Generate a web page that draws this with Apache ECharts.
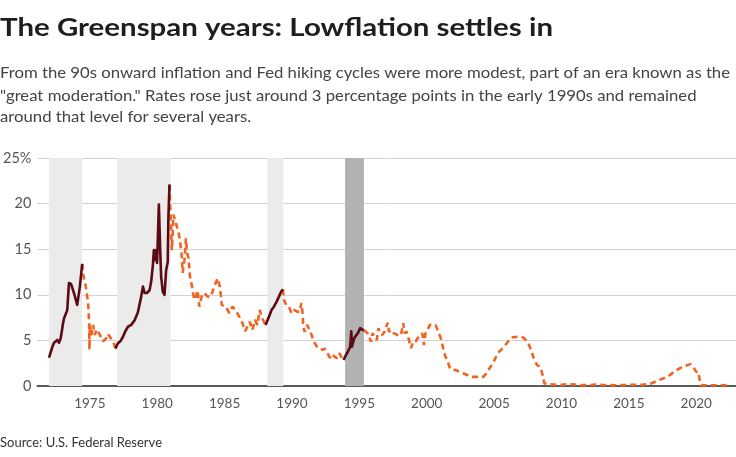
<!DOCTYPE html>
<html><head><meta charset="utf-8">
<script src="https://cdn.jsdelivr.net/npm/echarts@6/dist/echarts.min.js"></script>
<style>html,body{margin:0;padding:0;background:#fff}#c{width:736px;height:457px}</style>
</head><body><div id="c"></div>
<script>
const titleText = 'The Greenspan years: Lowflation settles in';
const subtitleLines = [
  'From the 90s onward inflation and Fed hiking cycles were more modest, part of an era known as the',
  '"great moderation." Rates rose just around 3 percentage points in the early 1990s and remained',
  'around that level for several years.'
];
const sourceText = 'Source: U.S. Federal Reserve';
const xTickYears = [1975, 1980, 1985, 1990, 1995, 2000, 2005, 2010, 2015, 2020];
const yTicks = [0, 5, 10, 15, 20, 25];

// Hiking cycles (shaded); last one highlighted
const hikingBands = [[1971.97, 1974.43], [1977.02, 1980.98], [1988.17, 1989.35], [1993.94, 1995.34]];
const highlightedBand = 3;

// Rates during hiking cycles (solid)
const hike1972 = [[1971.97,3.1],[1972.09,3.15],[1972.22,4.3],[1972.34,4.75],[1972.46,4.7],[1972.58,5.05],[1972.71,4.75],[1972.83,5.2],[1972.92,6.0],[1973.0,6.8],[1973.08,7.4],[1973.2,7.6],[1973.32,8.3],[1973.45,11.3],[1973.6,11.2],[1973.82,10.2],[1974.06,8.9],[1974.26,10.9],[1974.43,13.4]];
const hike1977 = [[1976.89,4.1],[1977.09,4.7],[1977.26,4.9],[1977.46,5.4],[1977.63,6.0],[1977.83,6.5],[1978.07,6.7],[1978.32,7.2],[1978.56,8.05],[1978.81,9.8],[1978.94,10.9],[1979.06,10.2],[1979.23,10.2],[1979.43,10.5],[1979.55,11.45],[1979.68,13.3],[1979.75,14.9],[1979.85,13.8],[1979.92,14.9],[1979.99,13.5],[1980.12,19.9],[1980.22,14.9],[1980.29,12.0],[1980.41,10.35],[1980.54,10.0],[1980.66,12.7],[1980.78,13.6],[1980.83,18.6],[1980.91,22.1]];
const hike1988 = [[1988.04,6.7],[1988.29,7.6],[1988.49,8.35],[1988.66,8.7],[1988.86,9.25],[1989.03,9.8],[1989.2,10.35],[1989.33,10.6]];
const hike1994 = [[1993.83,2.85],[1994.0,3.4],[1994.15,3.75],[1994.32,4.3],[1994.4,6.0],[1994.45,4.3],[1994.62,5.25],[1994.74,5.05],[1994.89,5.8],[1995.06,6.35],[1995.24,6.15],[1995.33,6.15]];

// Rates between hiking cycles (dashed)
const between1974 = [[1974.43,13.4],[1974.51,12.2],[1974.7,10.9],[1974.87,9.1],[1974.95,6.9],[1974.97,4.0],[1975.0,6.7],[1975.12,5.6],[1975.24,6.7],[1975.37,5.6],[1975.49,6.2],[1975.74,5.6],[1975.98,4.9],[1976.2,5.2],[1976.35,5.7],[1976.48,5.4],[1976.72,4.9],[1976.89,4.2]];
const between1981 = [[1980.91,22.1],[1980.95,20.1],[1981.03,17.5],[1981.08,14.9],[1981.15,16.8],[1981.2,18.8],[1981.32,18.2],[1981.45,18.0],[1981.57,16.9],[1981.69,16.0],[1981.82,14.2],[1981.89,12.4],[1982.02,13.8],[1982.13,16.2],[1982.21,14.6],[1982.33,14.0],[1982.43,12.0],[1982.58,10.9],[1982.75,9.45],[1982.87,9.8],[1983.0,10.5],[1983.12,8.7],[1983.29,9.8],[1983.49,10.2],[1983.74,9.8],[1983.98,9.8],[1984.23,10.9],[1984.48,11.8],[1984.65,10.9],[1984.79,8.9],[1985.09,8.7],[1985.34,8.0],[1985.58,8.7],[1985.83,8.3],[1986.08,7.6],[1986.32,6.9],[1986.52,6.0],[1986.62,6.3],[1986.86,7.05],[1987.06,6.15],[1987.26,7.25],[1987.43,6.7],[1987.6,8.35],[1987.8,7.4],[1988.04,6.7]];
const between1989 = [[1989.33,10.6],[1989.4,9.45],[1989.57,8.9],[1989.77,8.7],[1989.96,8.0],[1990.14,8.35],[1990.38,8.15],[1990.55,8.15],[1990.7,9.1],[1990.8,7.8],[1990.83,6.5],[1990.95,5.95],[1991.12,6.7],[1991.37,5.95],[1991.62,4.85],[1991.86,4.3],[1992.11,4.1],[1992.28,3.95],[1992.43,4.1],[1992.6,3.75],[1992.77,3.2],[1992.92,3.05],[1993.02,3.4],[1993.17,3.2],[1993.34,3.05],[1993.51,3.6],[1993.66,3.2],[1993.83,2.85]];
const between1995 = [[1995.33,6.15],[1995.43,5.95],[1995.6,5.8],[1995.87,4.85],[1995.97,5.8],[1996.12,5.4],[1996.29,5.05],[1996.42,6.35],[1996.54,5.8],[1996.71,5.6],[1996.86,5.95],[1996.96,6.15],[1997.11,6.95],[1997.2,5.95],[1997.35,6.15],[1997.53,5.8],[1997.7,5.7],[1997.9,5.5],[1998.09,5.6],[1998.26,6.9],[1998.34,5.8],[1998.51,5.95],[1998.68,5.05],[1998.83,4.15],[1999.0,4.85],[1999.17,4.85],[1999.32,5.25],[1999.49,5.4],[1999.67,5.8],[1999.79,4.5],[1999.91,5.8],[2000.06,6.15],[2000.23,6.7],[2000.41,6.7],[2000.65,6.7],[2000.85,5.95],[2001.04,5.25],[2001.22,4.15],[2001.39,3.2],[2001.54,2.85],[2001.71,1.95],[2001.88,1.8],[2002.13,1.75],[2002.44,1.55],[2002.7,1.4],[2003.01,1.2],[2003.31,1.0],[2003.6,1.0],[2003.92,1.0],[2004.2,1.0],[2004.45,1.4],[2004.66,1.95],[2004.91,2.5],[2005.28,3.6],[2005.65,4.15],[2006.02,4.85],[2006.39,5.35],[2006.76,5.4],[2007.13,5.35],[2007.5,4.85],[2007.74,3.95],[2007.94,3.05],[2008.18,2.3],[2008.43,2.1],[2008.6,1.2],[2008.72,0.3],[2008.97,0.2],[2009.5,0.15],[2010.0,0.12],[2010.5,0.2],[2011.0,0.15],[2011.5,0.1],[2012.0,0.1],[2012.5,0.15],[2013.0,0.12],[2013.5,0.1],[2014.0,0.08],[2014.5,0.1],[2015.0,0.12],[2015.5,0.13],[2015.97,0.12],[2016.6,0.25],[2017.23,0.65],[2017.85,1.0],[2018.4,1.6],[2018.98,2.1],[2019.55,2.4],[2019.7,2.2],[2019.85,1.9],[2020.0,1.55],[2020.15,1.55],[2020.25,0.7],[2020.35,0.1],[2020.6,0.08],[2021.0,0.08],[2021.5,0.08],[2022.0,0.08],[2022.35,0.1]];

const hikeSegments = [hike1972, hike1977, hike1988, hike1994];
const betweenSegments = [between1974, between1981, between1989, between1995];

const FONT = 'Lato, "Noto Sans", sans-serif';
const ORANGE = '#ef6420';
const MAROON = '#5c0a14';

const ctx = document.createElement('canvas').getContext('2d');
function fitScale(text, font, target) { ctx.font = font; return target / ctx.measureText(text).width; }

const titleFont = 'bold 25px ' + FONT;
const subFont = '16px ' + FONT;
const srcFont = '12.5px ' + FONT;
const titleScale = fitScale(titleText, titleFont, 553);
const subScale = fitScale(subtitleLines[0], subFont, 730);
const srcScale = fitScale(sourceText, srcFont, 162);

function textEl(text, font, y, scale, fill) {
  return { type: 'text', x: 0, y: y, scaleX: scale, originX: 0, silent: true,
    style: { text: text, font: font, fill: fill, align: 'left', verticalAlign: 'middle', textAlign: 'left', textVerticalAlign: 'middle' } };
}

const graphics = [textEl(titleText, titleFont, 28, titleScale, '#1e1e1e')];
const subYs = [73, 95.5, 117];
subtitleLines.forEach((l, i) => graphics.push(textEl(l, subFont, subYs[i], subScale, '#444')));
graphics.push(textEl(sourceText, srcFont, 443, srcScale, '#333'));

const series = [];
series.push({
  type: 'line', data: [], silent: true, z: 1,
  markArea: { silent: true,
    data: hikingBands.map((b, i) => [{ xAxis: b[0], itemStyle: { color: i === highlightedBand ? '#b2b2b2' : '#ebebeb' } }, { xAxis: b[1] }]) }
});
betweenSegments.forEach(seg => series.push({
  type: 'line', data: seg, symbol: 'none', silent: true, z: 3,
  lineStyle: { color: ORANGE, width: 2.6, type: [6, 4], cap: 'butt' }
}));
hikeSegments.forEach(seg => series.push({
  type: 'line', data: seg, symbol: 'none', silent: true, z: 4,
  lineStyle: { color: MAROON, width: 2.6, join: 'round' }
}));

const chart = echarts.init(document.getElementById('c'), null, { renderer: 'canvas' });
chart.setOption({
  animation: false,
  backgroundColor: '#fff',
  grid: { left: 34, right: 0, top: 158, bottom: 71, containLabel: false },
  xAxis: {
    type: 'value', min: 1971.11, max: 2022.95,
    axisLine: { show: true, onZero: true, lineStyle: { color: '#5a5a5a', width: 2 } },
    axisTick: { show: false },
    splitLine: { show: false },
    axisLabel: { customValues: xTickYears, color: '#555', fontSize: 13.5, fontFamily: FONT, margin: 11, formatter: v => String(v) }
  },
  yAxis: {
    type: 'value', min: 0, max: 25, interval: 5,
    axisLine: { show: false }, axisTick: { show: false },
    splitLine: { lineStyle: { color: '#d2d2d2', width: 1 } },
    axisLabel: { color: '#555', fontSize: 14.5, fontFamily: FONT, margin: 6, formatter: v => (v === yTicks[yTicks.length - 1] ? v + '%' : String(v)) }
  },
  graphic: graphics,
  series: series
});
</script></body></html>
